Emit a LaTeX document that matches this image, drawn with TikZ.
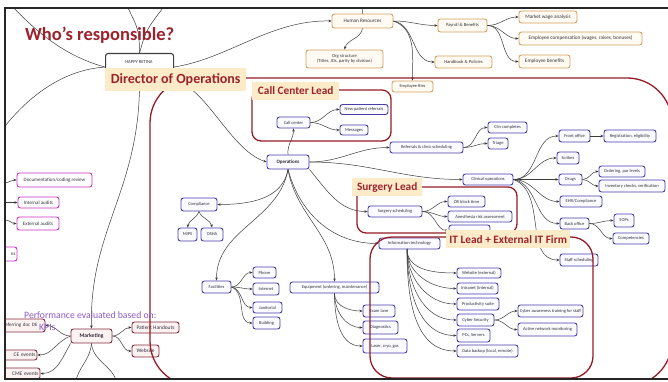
\documentclass[tikz,border=0pt]{standalone}
\usepackage{fontspec}
\setmainfont{Carlito}
\usetikzlibrary{arrows.meta}
\definecolor{blueB}{RGB}{72,62,170}
\definecolor{blueF}{RGB}{250,250,255}
\definecolor{hrB}{RGB}{212,160,95}
\definecolor{hrF}{RGB}{255,251,243}
\definecolor{pkB}{RGB}{205,50,200}
\definecolor{mkB}{RGB}{135,45,65}
\definecolor{mkF}{RGB}{252,242,242}
\definecolor{beige}{RGB}{252,235,200}
\definecolor{redT}{RGB}{155,35,45}
\definecolor{redL}{RGB}{150,28,38}
\definecolor{lineC}{RGB}{60,60,60}
\definecolor{txt}{RGB}{50,50,60}
\definecolor{purp}{RGB}{140,90,200}
\begin{document}
\begin{tikzpicture}[x=1pt,y=-1pt,
 box/.style={line width=0.9pt, rounded corners=2.5pt, inner sep=0pt, text=txt, font=\fontsize{4.5}{5}\selectfont},
 bl/.style={box, draw=blueB, fill=blueF},
 hrn/.style={box, draw=hrB, fill=hrF, font=\fontsize{5.2}{6}\selectfont, align=center},
 pk/.style={box, draw=pkB, fill=white, font=\fontsize{5}{6}\selectfont},
 mk/.style={box, draw=mkB, fill=mkF, font=\fontsize{5.4}{6}\selectfont},
 lbl/.style={fill=beige, text=redT, inner sep=0pt, font=\bfseries\fontsize{11.3}{13}\selectfont},
 region/.style={draw=redL, line width=1.3pt},
 ln/.style={draw=lineC, line width=0.5pt},
 arr/.style={ln, -{Stealth[length=3.2pt,width=2.6pt]}},
]
\useasboundingbox (0,0) rectangle (668,382);
\fill[white] (0,0) rectangle (668,382);
\begin{scope}
\clip (6,9) rectangle (668,378);
% ---------- nodes ----------
\node[box, draw=black!75, line width=1.1pt, fill=white, minimum width=68pt, minimum height=27pt, anchor=north west] (root) at (105,53) {};
\node[text=txt, font=\fontsize{4.6}{5}\selectfont] (rootT) at (139,62) {HAPPY RETINA};
% HR
\node[hrn, minimum width=61pt, minimum height=14pt] (hr) at (362.5,21) {Human Resources};
\node[hrn, minimum width=77pt, minimum height=18pt, font=\fontsize{4.6}{5.4}\selectfont] (org) at (344.5,59) {Org structure\\(Titles, JDs, parity by division)};
\node[hrn, minimum width=41pt, minimum height=11pt, font=\fontsize{4.4}{5}\selectfont] (empf) at (412.5,86.5) {Employee files};
\node[hrn, minimum width=49pt, minimum height=13pt, font=\fontsize{4.6}{5}\selectfont] (pay) at (462.5,25.5) {Payroll \& Benefits};
\node[hrn, minimum width=57pt, minimum height=12pt, font=\fontsize{4.6}{5}\selectfont] (hand) at (463.5,62) {Handbook \& Policies};
\node[hrn, minimum width=58pt, minimum height=12pt] (mwa) at (548,17) {Market wage analysis};
\node[hrn, minimum width=123pt, minimum height=13pt] (comp) at (580.5,38.5) {Employee compensation (wages, raises, bonuses)};
\node[hrn, minimum width=51pt, minimum height=13pt] (ben) at (544.5,61.5) {Employee benefits};
% Operations
\node[bl, minimum width=33pt, minimum height=11pt] (cc) at (293.5,122.5) {Call center};
\node[bl, minimum width=48pt, minimum height=10pt] (npr) at (364,109.5) {New patient referrals};
\node[bl, minimum width=28pt, minimum height=10pt] (msg) at (354,130) {Messages};
\node[bl, minimum width=42pt, minimum height=14pt, font=\bfseries\fontsize{5}{6}\selectfont] (ops) at (288,162) {Operations};
\node[bl, minimum width=73pt, minimum height=11pt] (ref) at (426.5,147.5) {Referrals \& clinic scheduling};
\node[bl, minimum width=39pt, minimum height=11pt] (clinc) at (507.5,127.5) {Clin completes};
\node[bl, minimum width=20pt, minimum height=11pt] (tri) at (498,143.5) {Triage};
\node[bl, minimum width=50pt, minimum height=11pt] (clin) at (488,179.5) {Clinical operations};
\node[bl, minimum width=31pt, minimum height=12pt] (fo) at (574.5,136) {Front office};
\node[bl, minimum width=52pt, minimum height=12pt] (reg) at (630,136) {Registration, eligibility};
\node[bl, minimum width=22pt, minimum height=12pt] (scr) at (568,158) {Scribes};
\node[bl, minimum width=23pt, minimum height=11pt] (drg) at (570.5,179.5) {Drugs};
\node[bl, minimum width=46pt, minimum height=11pt] (ord) at (622,171.5) {Ordering, par levels};
\node[bl, minimum width=66pt, minimum height=12pt] (inv) at (632,186) {Inventory checks, verification};
\node[bl, minimum width=42pt, minimum height=11pt] (ehr) at (581,201.5) {EHR/Compliance};
\node[bl, minimum width=29pt, minimum height=11pt] (bo) at (574.5,223.5) {Back office};
\node[bl, minimum width=20pt, minimum height=13pt] (sop) at (624,220.5) {SOPs};
\node[bl, minimum width=36pt, minimum height=11pt] (cmp) at (631,238.5) {Competencies};
\node[bl, minimum width=38pt, minimum height=12pt] (ss) at (579,260) {Staff scheduling};
\node[bl, minimum width=54pt, minimum height=11pt] (surg) at (395,211.5) {Surgery scheduling};
\node[bl, minimum width=37pt, minimum height=11pt] (orb) at (466.5,201.5) {OR block time};
\node[bl, minimum width=64pt, minimum height=11pt] (anes) at (480,216.5) {Anesthesia risk assessment};
\node[bl, minimum width=41pt, minimum height=11pt] (surg3) at (469.5,230.5) {};
\node[bl, minimum width=61pt, minimum height=11pt] (it) at (409.5,243.5) {Information technology};
\node[bl, minimum width=44pt, minimum height=10pt] (web) at (479,273) {Website (external)};
\node[bl, minimum width=41pt, minimum height=11pt] (intr) at (477.5,288.5) {Intranet (internal)};
\node[bl, minimum width=42pt, minimum height=12pt] (prod) at (478,304) {Productivity suite};
\node[bl, minimum width=37pt, minimum height=12pt] (cyb) at (475.5,320) {Cyber Security};
\node[bl, minimum width=33pt, minimum height=13pt] (pcs) at (473.5,335.5) {PCs, Servers};
\node[bl, minimum width=61pt, minimum height=12pt] (dat) at (487.5,351) {Data backup (local, remote)};
\node[bl, minimum width=65pt, minimum height=12pt] (caw) at (550.5,311) {Cyber awareness training for staff};
\node[bl, minimum width=59pt, minimum height=13pt] (anm) at (547.5,329.5) {Active network monitoring};
\node[bl, minimum width=89pt, minimum height=11pt] (eq) at (334.5,287.5) {Equipment (ordering, maintenance)};
\node[bl, minimum width=32pt, minimum height=12pt] (exam) at (379,311) {Exam lane};
\node[bl, minimum width=35pt, minimum height=13pt] (diag) at (380.5,327.5) {Diagnostics};
\node[bl, minimum width=44pt, minimum height=14pt] (laser) at (385,346) {Laser, cryo, gas};
\node[bl, minimum width=29pt, minimum height=12pt] (fac) at (216.5,287) {Facilities};
\node[bl, minimum width=23pt, minimum height=11pt] (ph) at (264.5,272.5) {Phone};
\node[bl, minimum width=26pt, minimum height=12pt] (inet) at (266,289) {Internet};
\node[bl, minimum width=29pt, minimum height=11pt] (jan) at (267.5,307.5) {Janitorial};
\node[bl, minimum width=27pt, minimum height=12pt] (bld) at (266.5,323) {Building};
\node[bl, minimum width=36pt, minimum height=13pt] (compl) at (199,204.5) {Compliance};
\node[bl, minimum width=19pt, minimum height=13pt] (mips) at (187.5,234.5) {MIPS};
\node[bl, minimum width=22pt, minimum height=13pt] (osha) at (212,234.5) {OSHA};
% pink
\node[pk, minimum width=75pt, minimum height=14pt] (doc) at (54.5,180) {Documentation/coding review};
\node[pk, minimum width=41pt, minimum height=11pt] (ia) at (38.5,202.5) {Internal audits};
\node[pk, minimum width=42pt, minimum height=13pt] (ea) at (38,223.5) {External audits};
\node[pk, minimum width=47pt, minimum height=14pt, text width=44pt, align=right] (pk4) at (-6.5,254) {ns};
% marketing
\node[mk, minimum width=41pt, minimum height=14pt, font=\bfseries\fontsize{5.6}{6}\selectfont] (mkt) at (91.5,336) {Marketing};
\node[mk, minimum width=47pt, minimum height=11pt] (pho) at (155.5,327.5) {Patient Handouts};
\node[mk, minimum width=27pt, minimum height=12pt] (webm) at (145.5,351) {Website};
\node[mk, minimum width=65pt, minimum height=13pt, text width=62pt, align=right, font=\fontsize{5}{6}\selectfont] (rdoc) at (12.5,325.5) {Referring doc DE\hspace*{6pt}};
\node[mk, minimum width=57pt, minimum height=10pt, text width=54pt, align=right] (ce) at (8.5,355) {CE events};
\node[mk, minimum width=60pt, minimum height=11pt, text width=57pt, align=right] (cme) at (10,373.5) {CME events};
% ---------- connectors ----------
\coordinate (upL) at (126,4);
\coordinate (upR) at (166,4);
\coordinate (topL) at (10,4);
\coordinate (leftD) at (2,130);
\draw[ln] (root.north) .. controls (139,30) .. (upL);
\draw[ln] (root.north) .. controls (146,30) .. (upR);
\draw[ln] (root.west) .. controls (60,55) and (30,25) .. (topL);
\draw[ln] (root.west) .. controls (60,70) and (25,100) .. (leftD);
\draw[arr] (root.east) .. controls (230,58) and (270,20) .. (hr.west);
\draw[arr] (root.south) .. controls (140,190) and (89,230) .. (mkt.north);
\draw[arr] (root.south east) .. controls (205,85) and (230,150) .. (ops.west);
\coordinate (hrTop) at (362,6);
\draw[ln] (hr.north) -- (hrTop);
\draw[arr] (hr.south) to[out=-100,in=75] (org.north);
\draw[arr] (hr.east) to[out=0,in=180] (pay.west);
\draw[arr] (hr.east) to[out=-10,in=180] (hand.west);
\draw[arr] (hr.east) to[out=-20,in=90] (empf.north);
\draw[arr] (pay.east) to[out=0,in=180] (mwa.west);
\draw[arr] (pay.east) to[out=0,in=180] (comp.west);
\draw[arr] (pay.east) to[out=0,in=180] (ben.west);
% left pink
\coordinate (pa) at (5,183);
\coordinate (pb) at (5,202.5);
\coordinate (pc) at (5,220);
\draw[arr] (pa) to[out=10,in=180] (doc.west);
\draw[arr] (pb) -- (ia.west);
\draw[arr] (pc) to[out=0,in=180] (ea.west);
% marketing
\coordinate (mb1) at (75,384);
\coordinate (mb2) at (117,384);
\draw[arr] (mkt.east) to[out=0,in=180] (pho.west);
\draw[arr] (mkt.east) to[out=0,in=180] (webm.west);
\draw[arr] (mkt.west) to[out=180,in=0] (rdoc.east);
\draw[arr] (mkt.west) to[out=200,in=0] (ce.east);
\draw[arr] (mkt.south west) to[out=-120,in=0] (cme.east);
\draw[ln] (mkt.south) to[out=-95,in=80] (mb1);
\draw[ln] (mkt.south) to[out=-85,in=100] (mb2);
% operations
\draw[arr] (ops.north) to[out=95,in=-90] (cc.south);
\draw[arr] (cc.east) to[out=0,in=180] (npr.west);
\draw[arr] (cc.east) to[out=0,in=180] (msg.west);
\draw[arr] (ops.east) to[out=0,in=180] (ref.west);
\draw[arr] (ref.east) to[out=0,in=180] (clinc.west);
\draw[arr] (ref.east) to[out=0,in=180] (tri.west);
\draw[arr] (ops.east) to[out=0,in=180] (clin.west);
\draw[arr] (ops.south east) to[out=-50,in=180] (surg.west);
\draw[arr] (ops.south) to[out=-75,in=180] (it.west);
\draw[arr] (ops.south) to[out=-100,in=0] (compl.east);
\draw[arr] (ops.south) to[out=-100,in=90] (fac.north);
\draw[arr] (ops.south) to[out=-80,in=90] (eq.north);
\draw[arr] (compl.south) to[out=-110,in=80] (mips.north);
\draw[arr] (compl.south) to[out=-70,in=100] (osha.north);
\draw[arr] (fac.east) to[out=0,in=180] (ph.west);
\draw[arr] (fac.east) to[out=0,in=180] (inet.west);
\draw[arr] (fac.east) to[out=-10,in=180] (jan.west);
\draw[arr] (fac.east) to[out=-20,in=180] (bld.west);
\draw[arr] (eq.south) to[out=-90,in=180] (exam.west);
\draw[arr] (eq.south) to[out=-90,in=180] (diag.west);
\draw[arr] (eq.south) to[out=-90,in=180] (laser.west);
\draw[arr] (clin.east) to[out=0,in=180] (fo.west);
\draw[arr] (clin.east) to[out=0,in=180] (scr.west);
\draw[arr] (clin.east) to[out=0,in=180] (drg.west);
\draw[arr] (clin.east) to[out=0,in=180] (ehr.west);
\draw[arr] (clin.east) to[out=-10,in=180] (bo.west);
\draw[arr] (clin.east) to[out=-20,in=180] (ss.west);
\draw[arr] (fo.east) -- (reg.west);
\draw[arr] (drg.east) to[out=0,in=180] (ord.west);
\draw[arr] (drg.east) to[out=0,in=180] (inv.west);
\draw[arr] (bo.east) to[out=0,in=180] (sop.west);
\draw[arr] (bo.east) to[out=0,in=180] (cmp.west);
\draw[arr] (surg.east) to[out=0,in=180] (orb.west);
\draw[arr] (surg.east) to[out=0,in=180] (anes.west);
\draw[arr] (surg.east) to[out=0,in=180] (surg3.west);
\coordinate (itb) at (407,249);
\foreach \c in {web,intr,prod,cyb,pcs,dat}{\draw[arr] (itb) to[out=-90,in=180] (\c.west);}
\draw[arr] (cyb.east) to[out=0,in=180] (caw.west);
\draw[arr] (cyb.east) to[out=0,in=180] (anm.west);
% ---------- regions ----------
\draw[region, rounded corners=45pt] (150,78) rectangle (672,386);
\draw[region, rounded corners=9pt] (252,90) rectangle (391,141);
\draw[region, rounded corners=9pt] (357,187) rectangle (517,233);
\draw[region, rounded corners=22pt] (370,237) rectangle (593,378);
\end{scope}
% frame
\draw[line width=1.8pt, black!85] (680,8) -- (5,8) -- (5,379) -- (680,379);
% labels
\node[lbl, font=\bfseries\fontsize{14}{16}\selectfont, minimum width=141pt, minimum height=23pt, anchor=north west] (dirlbl) at (105,68) {Director of Operations};
\node[lbl, minimum width=87pt, minimum height=18pt, anchor=north west] (cclbl) at (252,81.5) {Call Center Lead};
\node[lbl, minimum width=70pt, minimum height=18pt, anchor=north west] (surglbl) at (352,178) {Surgery Lead};
\node[lbl, minimum width=124pt, minimum height=18pt, anchor=north west] (itlbl) at (446,230) {IT Lead + External IT Firm};
\node[anchor=base west, inner sep=0pt, text=redT, font=\bfseries\fontsize{18.5}{20}\selectfont] (title) at (25,41) {Who’s responsible?};
\node[anchor=base west, inner sep=0pt, text=purp, font=\fontsize{9.7}{11}\selectfont] (perf1) at (24,318) {Performance evaluated based on:};
\node[anchor=base west, inner sep=0pt, text=purp, font=\fontsize{9.7}{11}\selectfont] (perf2) at (39,330) {KPIs};
\end{tikzpicture}
\end{document}
